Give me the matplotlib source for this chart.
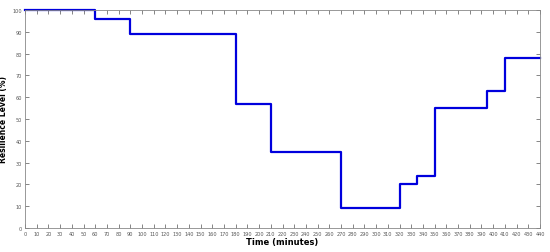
import matplotlib
matplotlib.use("Agg")
import matplotlib.pyplot as plt

# step change times (minutes) and resilience level (%) held from each time
times = [0, 60, 90, 180, 210, 270, 320, 335, 350, 395, 410, 440]
levels = [100, 96, 89, 57, 35, 9, 20, 24, 55, 63, 78, 78]

fig = plt.figure(figsize=(5.5, 2.53), dpi=100)
ax = fig.add_axes([25 / 550, 1 - 229 / 253, 515 / 550, 218 / 253])

ax.step(times, levels, where="post", color="#0000dd", linewidth=1.6, clip_on=False)

ax.set_xlim(0, 440)
ax.set_ylim(0, 100)
ax.set_xticks(range(0, 441, 10))
ax.set_yticks(range(0, 101, 10))
ax.tick_params(axis="both", direction="in", labelsize=3.6, length=3, width=0.5,
               colors="#555555", top=True, right=True, pad=2)
for s in ax.spines.values():
    s.set_color("#888888")
    s.set_linewidth(0.6)

ax.set_xlabel("Time (minutes)", fontsize=6, fontweight="bold", labelpad=1)
ax.set_ylabel("Resilience Level (%)", fontsize=5.5, fontweight="bold", labelpad=3)

fig.savefig("out.png", dpi=100)
